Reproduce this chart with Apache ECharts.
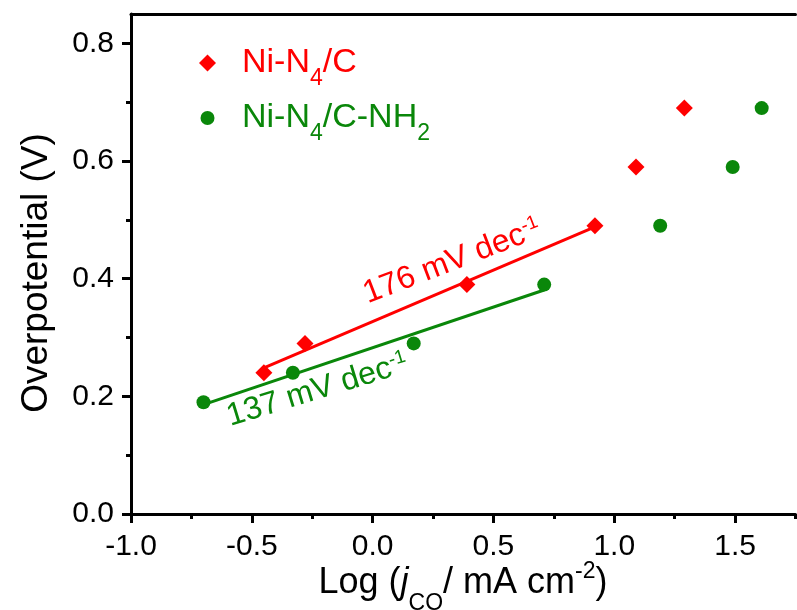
<!DOCTYPE html>
<html><head><meta charset="utf-8">
<script src="https://cdn.jsdelivr.net/npm/echarts@6/dist/echarts.min.js"></script>
<style>html,body{margin:0;padding:0;background:#fff}#c{width:797px;height:610px}</style>
</head><body><div id="c"></div>
<script>
// ---- data ----
const seriesNames = ['Ni-N4/C', 'Ni-N4/C-NH2'];
const redX = [-0.45, -0.28, 0.39, 0.92, 1.09, 1.29];
const redY = [0.24, 0.29, 0.39, 0.49, 0.59, 0.69];
const greenX = [-0.70, -0.33, 0.17, 0.71, 1.19, 1.49, 1.61];
const greenY = [0.19, 0.24, 0.29, 0.39, 0.49, 0.59, 0.69];
const fitCount = [4, 4];
const slopeLabels = ['176', '137'];
const xTicks = [-1.0, -0.5, 0.0, 0.5, 1.0, 1.5];
const xMinorTicks = [-0.75, -0.25, 0.25, 0.75, 1.25, 1.75];
const yTicks = [0.0, 0.2, 0.4, 0.6, 0.8];
const yMinorTicks = [0.1, 0.3, 0.5, 0.7];
const xRange = [-1.0, 1.75];
const yRange = [0.0, 0.85];

const RED = '#ff0000', GREEN = '#0a870a';
const FF = "'Liberation Sans', Arial, sans-serif";

function fit(xs, ys, n) {
  const X = xs.slice(0, n), Y = ys.slice(0, n);
  const mx = X.reduce((a, b) => a + b, 0) / n, my = Y.reduce((a, b) => a + b, 0) / n;
  let sxy = 0, sxx = 0;
  for (let i = 0; i < n; i++) { sxy += (X[i] - mx) * (Y[i] - my); sxx += (X[i] - mx) ** 2; }
  const k = sxy / sxx, b = my - k * mx;
  return [[X[0], k * X[0] + b], [X[n - 1], k * X[n - 1] + b]];
}
const zip = (a, b) => a.map((v, i) => [v, b[i]]);

const chart = echarts.init(document.getElementById('c'), null, { renderer: 'canvas' });
const gridRect = { left: 131, top: 14, right: 1.5, bottom: 96 };

const richLegend = (color) => ({
  color: color, fontSize: 34, fontFamily: FF,
  rich: {
    sp: { width: 21, fontSize: 34, lineHeight: 42 },
    n: { fontSize: 34, fontFamily: FF, color: color, lineHeight: 42 },
    sub: { fontSize: 23, fontFamily: FF, color: color, height: 11, verticalAlign: 'bottom' }
  }
});
const circleIcon = 'path://M0,0M17,17M15.5,8.5A7,7,0,1,1,1.5,8.5A7,7,0,1,1,15.5,8.5Z';

chart.setOption({
  animation: false,
  backgroundColor: '#ffffff',
  grid: [Object.assign({}, gridRect), Object.assign({}, gridRect)],
  legend: {
    orient: 'vertical', left: 194, top: 41, itemWidth: 17, itemHeight: 17, itemGap: 11,
    data: [
      { name: seriesNames[0], icon: 'diamond', textStyle: richLegend(RED) },
      { name: seriesNames[1], icon: circleIcon, textStyle: richLegend(GREEN) }
    ],
    formatter: function (name) {
      return name === seriesNames[0] ? '{sp| }{n|Ni-N}{sub|4}{n|/C}' : '{sp| }{n|Ni-N}{sub|4}{n|/C-NH}{sub|2}';
    }
  },
  xAxis: [
    { type: 'value', gridIndex: 0, min: xRange[0], max: xRange[1], position: 'bottom',
      axisLine: { onZero: false, lineStyle: { color: '#000', width: 3 } },
      axisTick: { customValues: xTicks, length: 9, lineStyle: { color: '#000', width: 3 } },
      axisLabel: { customValues: xTicks, formatter: v => v.toFixed(1), fontSize: 30, fontFamily: FF, color: '#000', margin: 18 },
      splitLine: { show: false } },
    { type: 'value', gridIndex: 0, min: xRange[0], max: xRange[1], position: 'top',
      axisLine: { onZero: false, lineStyle: { color: '#000', width: 3 } },
      axisTick: { show: false }, axisLabel: { show: false }, splitLine: { show: false } },
    { type: 'value', gridIndex: 1, min: xRange[0], max: xRange[1], position: 'bottom',
      axisLine: { show: false, onZero: false },
      axisTick: { customValues: xMinorTicks, length: 5, lineStyle: { color: '#000', width: 3 } },
      axisLabel: { show: false }, splitLine: { show: false } }
  ],
  yAxis: [
    { type: 'value', gridIndex: 0, min: yRange[0], max: yRange[1], position: 'left',
      axisLine: { onZero: false, lineStyle: { color: '#000', width: 3 } },
      axisTick: { customValues: yTicks, length: 9, lineStyle: { color: '#000', width: 3 } },
      axisLabel: { customValues: yTicks, formatter: v => v.toFixed(1), fontSize: 30, fontFamily: FF, color: '#000', margin: 17 },
      splitLine: { show: false } },
    { type: 'value', gridIndex: 1, min: yRange[0], max: yRange[1], position: 'left',
      axisLine: { show: false, onZero: false },
      axisTick: { customValues: yMinorTicks, length: 5, lineStyle: { color: '#000', width: 3 } },
      axisLabel: { show: false }, splitLine: { show: false } }
  ],
  series: [
    { name: seriesNames[0] + ' fit', type: 'line', xAxisIndex: 0, yAxisIndex: 0,
      data: fit(redX, redY, fitCount[0]), showSymbol: false, symbol: 'none',
      lineStyle: { color: RED, width: 3 }, z: 2 },
    { name: seriesNames[1] + ' fit', type: 'line', xAxisIndex: 0, yAxisIndex: 0,
      data: fit(greenX, greenY, fitCount[1]), showSymbol: false, symbol: 'none',
      lineStyle: { color: GREEN, width: 3 }, z: 2 },
    { name: seriesNames[0], type: 'scatter', xAxisIndex: 0, yAxisIndex: 0,
      data: zip(redX, redY), symbol: 'diamond', symbolSize: 17,
      itemStyle: { color: RED, opacity: 1 }, z: 3 },
    { name: seriesNames[1], type: 'scatter', xAxisIndex: 0, yAxisIndex: 0,
      data: zip(greenX, greenY), symbol: 'circle', symbolSize: 14,
      itemStyle: { color: GREEN, opacity: 1 }, z: 3 }
  ]
});

// annotations & axis titles
const mainRich = (color) => ({
  n: { fontSize: 36, fontFamily: FF, fill: color, lineHeight: 44 },
  i: { fontSize: 36, fontFamily: FF, fontStyle: 'italic', fill: color, lineHeight: 44 },
  sub: { fontSize: 23, fontFamily: FF, fill: color, height: 2, verticalAlign: 'bottom' },
  sup: { fontSize: 23, fontFamily: FF, fill: color, height: 22, verticalAlign: 'top' }
});
const annRich = (color) => ({
  n: { fontSize: 32, fontFamily: FF, fill: color, lineHeight: 38 },
  sup: { fontSize: 19, fontFamily: FF, fill: color, height: 24, verticalAlign: 'top' }
});

const pRed = chart.convertToPixel({ xAxisIndex: 0, yAxisIndex: 0 }, [-0.005, 0.342]);
const pGreen = chart.convertToPixel({ xAxisIndex: 0, yAxisIndex: 0 }, [-0.577, 0.133]);

chart.setOption({
  graphic: [
    { type: 'text', x: 463, y: 583, silent: true,
      style: { text: '{n|Log (}{i|j}{sub|CO}{n|/ mA cm}{sup|-2}{n|)}', rich: mainRich('#000'),
               align: 'center', verticalAlign: 'middle', fill: '#000' } },
    { type: 'text', x: 37, y: 273, rotation: Math.PI / 2, silent: true,
      style: { text: 'Overpotential (V)', fontSize: 37, fontFamily: FF,
               align: 'center', verticalAlign: 'middle', fill: '#000' } },
    { type: 'text', x: pRed[0], y: pRed[1], rotation: 21 * Math.PI / 180, silent: true,
      style: { text: '{n|' + slopeLabels[0] + ' mV dec}{sup|-1}', rich: annRich(RED),
               align: 'left', verticalAlign: 'bottom', fill: RED } },
    { type: 'text', x: pGreen[0], y: pGreen[1], rotation: 17 * Math.PI / 180, silent: true,
      style: { text: '{n|' + slopeLabels[1] + ' mV dec}{sup|-1}', rich: annRich(GREEN),
               align: 'left', verticalAlign: 'bottom', fill: GREEN } }
  ]
});
</script>
</body></html>
